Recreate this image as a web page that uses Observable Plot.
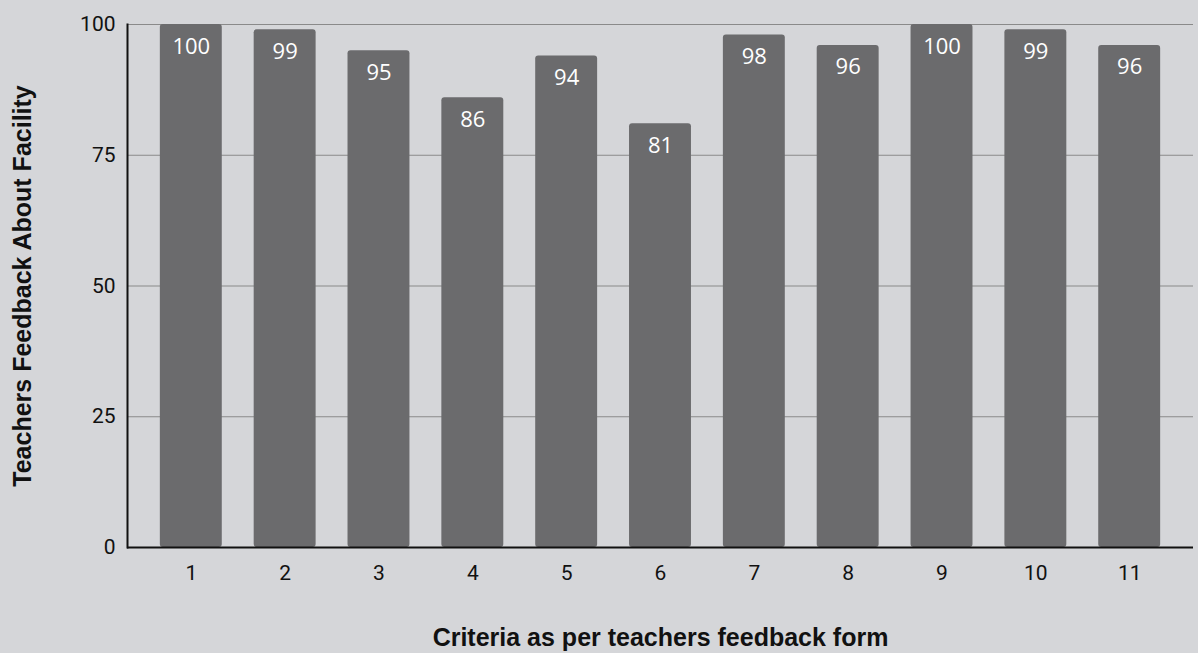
<!DOCTYPE html>
<html>
<head>
<meta charset="utf-8">
<script src="https://cdn.jsdelivr.net/npm/d3@7"></script>
<script src="https://cdn.jsdelivr.net/npm/@observablehq/plot@0.6"></script>
<style>
  html, body { margin: 0; padding: 0; background: #d5d6d9; }
  #chart svg { display: block; background: #d5d6d9; }
</style>
</head>
<body>
<div id="chart"></div>
<script>
const criteria = ["1","2","3","4","5","6","7","8","9","10","11"];
const scores = [100, 99, 95, 86, 94, 81, 98, 96, 100, 99, 96];
const yTicks = [0, 25, 50, 75, 100];
const xTitle = "Criteria as per teachers feedback form";
const yTitle = "Teachers Feedback About Facility";

const data = criteria.map((c, i) => ({criterion: c, score: scores[i]}));

const chart = Plot.plot({
  width: 1198,
  height: 653,
  marginLeft: 127,
  marginRight: 5,
  marginTop: 24,
  marginBottom: 106,
  style: {background: "#d5d6d9", fontFamily: "Roboto, sans-serif"},
  x: {domain: criteria, paddingInner: 0.34, paddingOuter: 0.35, round: false},
  y: {domain: [0, 100]},
  marks: [
    Plot.gridY(yTicks.filter(d => d > 0), {stroke: "#8a8a8a", strokeOpacity: 1, strokeWidth: 1.2}),
    Plot.barY(data, {x: "criterion", y: "score", fill: "#6b6b6d", rx: 3}),
    Plot.text(data, {x: "criterion", y: "score", text: d => String(d.score), dy: 22, fill: "white", fontSize: 22, fontFamily: "'Open Sans', sans-serif"}),
    Plot.axisY({ticks: yTicks, tickSize: 0, tickPadding: 12, fontSize: 21, fill: "#111",
      label: yTitle, labelArrow: "none", labelAnchor: "center", labelOffset: 114}),
    Plot.axisX({tickSize: 0, tickPadding: 18, fontSize: 21, fill: "#111",
      label: xTitle, labelArrow: "none", labelAnchor: "center", labelOffset: 98}),
    Plot.frame({anchor: "left", stroke: "#111", strokeWidth: 2}),
    Plot.ruleY([0], {stroke: "#111", strokeWidth: 2})
  ]
});
document.getElementById("chart").append(chart);
// Bold axis titles
chart.querySelectorAll("[aria-label$='axis label'] text, [aria-label$='axis label']").forEach(el => {
  el.setAttribute("font-weight", "bold");
  el.setAttribute("font-size", "25");
  el.setAttribute("font-family", "'Liberation Sans', Arial, sans-serif");
});
</script>
</body>
</html>
